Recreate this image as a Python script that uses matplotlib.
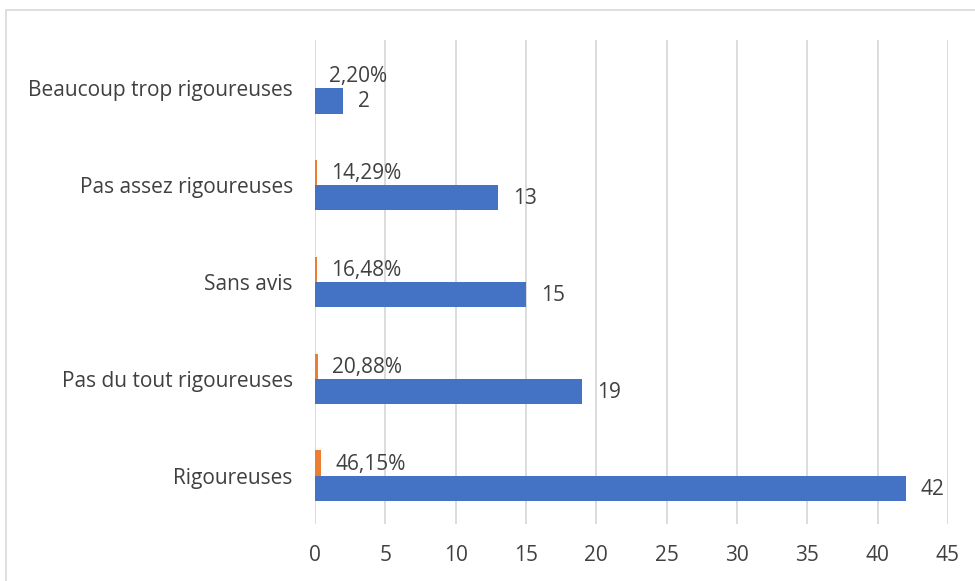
import matplotlib.pyplot as plt
from matplotlib.patches import Rectangle

categories = ["Rigoureuses", "Pas du tout rigoureuses", "Sans avis",
              "Pas assez rigoureuses", "Beaucoup trop rigoureuses"]
counts = [42, 19, 15, 13, 2]
shares = [0.4615, 0.2088, 0.1648, 0.1429, 0.0220]
share_labels = ["46,15%", "20,88%", "16,48%", "14,29%", "2,20%"]

BLUE = "#4472C4"
ORANGE = "#ED7D31"
TEXT = "#404040"
GRID = "#D9D9D9"

plt.rcParams["font.family"] = ["Open Sans", "DejaVu Sans"]
FS = 15

fig = plt.figure(figsize=(9.75, 5.81), dpi=100)
fig.patches.append(Rectangle((6 / 975, -0.1), 1.2, 1 - 10 / 581 + 0.1,
                             transform=fig.transFigure, fill=False,
                             edgecolor=GRID, linewidth=1.2))
ax = fig.add_axes([315 / 975, 1 - 524 / 581, 633 / 975, 484 / 581])

h = 0.26
ypos = list(range(len(categories)))
ax.barh([y - h / 2 for y in ypos], counts, height=h, color=BLUE, zorder=3)
ax.barh([y + h / 2 for y in ypos], shares, height=h, color=ORANGE, zorder=3)

for y, c in zip(ypos, counts):
    ax.annotate(str(c), (c, y - h / 2), xytext=(15, -1), textcoords="offset pixels",
                ha="left", va="center", fontsize=FS, color=TEXT)
for y, s, lab in zip(ypos, shares, share_labels):
    ax.annotate(lab, (s, y + h / 2), xytext=(14, -1), textcoords="offset pixels",
                ha="left", va="center", fontsize=FS, color=TEXT)

ax.set_xlim(0, 45)
ax.set_ylim(-0.5, len(categories) - 0.5)
ax.set_xticks(range(0, 46, 5))
ax.set_yticks(ypos)
ax.set_yticklabels(categories)
ax.tick_params(axis="y", length=0, pad=16, labelsize=FS, labelcolor=TEXT)
ax.tick_params(axis="x", length=0, pad=15, labelsize=FS, labelcolor=TEXT)
ax.grid(axis="x", color=GRID, linewidth=1.3, zorder=0)
for sp in ax.spines.values():
    sp.set_visible(False)

fig.savefig("out.png", dpi=100)
